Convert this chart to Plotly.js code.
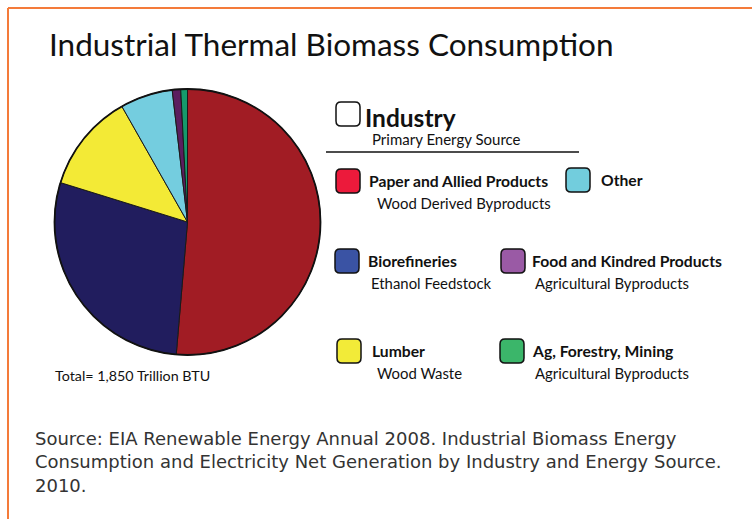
<!DOCTYPE html>
<html>
<head>
<meta charset="utf-8">
<script src="https://cdn.plot.ly/plotly-3.0.1.min.js"></script>
<style>html,body{margin:0;padding:0;background:#fff;}#chart{width:752px;height:519px;}</style>
</head>
<body>
<div id="chart"></div>
<script>
// ---- data ----
var industries = ['Paper and Allied Products', 'Biorefineries', 'Lumber', 'Other', 'Food and Kindred Products', 'Ag, Forestry, Mining'];
var energySources = ['Wood Derived Byproducts', 'Ethanol Feedstock', 'Wood Waste', '', 'Agricultural Byproducts', 'Agricultural Byproducts'];
var consumption = [950, 526, 222, 118, 19, 15]; // trillion BTU
var pieColors = ['#A11C24', '#211D5E', '#F3EA36', '#74CDDF', '#5B1D5F', '#169A6B'];
var legendColors = ['#EC1A3B', '#3A53A4', '#F2EB38', '#72CDDD', '#9A5AA5', '#3BB66A'];
var titleText = 'Industrial Thermal Biomass Consumption';
var totalText = 'Total= 1,850 Trillion BTU';
var sourceText = 'Source: EIA Renewable Energy Annual 2008. Industrial Biomass Energy<br>Consumption and Electricity Net Generation by Industry and Energy Source.<br>2010.';

// ---- layout helpers (pixel -> paper) ----
var W = 752, H = 519;
function px(x) { return x / W; }
function py(y) { return 1 - y / H; }
function roundBox(x0, y0, x1, y1, r) {
  var rx = r / W, ry = r / H;
  var a = px(x0), b = px(x1), t = py(y0), u = py(y1);
  return 'M' + (a + rx) + ',' + t +
    ' L' + (b - rx) + ',' + t + ' Q' + b + ',' + t + ' ' + b + ',' + (t - ry) +
    ' L' + b + ',' + (u + ry) + ' Q' + b + ',' + u + ' ' + (b - rx) + ',' + u +
    ' L' + (a + rx) + ',' + u + ' Q' + a + ',' + u + ' ' + a + ',' + (u + ry) +
    ' L' + a + ',' + (t - ry) + ' Q' + a + ',' + t + ' ' + (a + rx) + ',' + t + ' Z';
}

// legend slot positions (box left x, box center y, label x, source x) per industry
var slots = [
  {bx: 336, cy: 181, tx: 367, sx: 375},
  {bx: 335, cy: 261, tx: 366, sx: 369},
  {bx: 337, cy: 351, tx: 370, sx: 375},
  {bx: 566, cy: 180, tx: 599, sx: 0},
  {bx: 501, cy: 261, tx: 530, sx: 533},
  {bx: 500, cy: 351, tx: 530, sx: 533}
];

var shapes = [
  {type: 'line', xref: 'paper', yref: 'paper', x0: px(8), x1: px(752), y0: py(8), y1: py(8), line: {color: '#F47B3A', width: 2}},
  {type: 'line', xref: 'paper', yref: 'paper', x0: px(8), x1: px(8), y0: py(8), y1: py(519), line: {color: '#F47B3A', width: 2}},
  {type: 'path', xref: 'paper', yref: 'paper', path: roundBox(336, 102, 360, 126, 5), fillcolor: '#FFFFFF', line: {color: '#111', width: 1.5}},
  {type: 'line', xref: 'paper', yref: 'paper', x0: px(326), x1: px(579), y0: py(152), y1: py(152), line: {color: '#111', width: 1.5}}
];
var fontB = 'Lato, "Open Sans", sans-serif';
var annotations = [
  {x: px(331), y: py(44), text: titleText, font: {family: fontB, size: 31.5, color: '#111'}},
  {x: px(363), y: py(117), xanchor: 'left', text: '<b>Industry</b>', font: {family: fontB, size: 24.5, color: '#111'}},
  {x: px(370), y: py(139), xanchor: 'left', text: 'Primary Energy Source', font: {family: fontB, size: 15, color: '#111'}},
  {x: px(53), y: py(375), xanchor: 'left', text: totalText, font: {family: fontB, size: 14.3, color: '#111'}},
  {x: px(33), y: py(462), xanchor: 'left', align: 'left', text: sourceText, font: {family: '"DejaVu Sans", sans-serif', size: 18, color: '#333'}}
];
for (var i = 0; i < industries.length; i++) {
  var s = slots[i];
  shapes.push({type: 'path', xref: 'paper', yref: 'paper', path: roundBox(s.bx, s.cy - 12, s.bx + 24, s.cy + 12, 5),
    fillcolor: legendColors[i], line: {color: '#111', width: 1.5}});
  annotations.push({x: px(s.tx), y: py(s.cy), xanchor: 'left', text: '<b>' + industries[i] + '</b>',
    font: {family: fontB, size: 15.7, color: '#111'}});
  if (energySources[i]) {
    annotations.push({x: px(s.sx), y: py(s.cy + 22), xanchor: 'left', text: energySources[i],
      font: {family: fontB, size: 14.9, color: '#111'}});
  }
}
annotations.forEach(function (a) { a.xref = 'paper'; a.yref = 'paper'; a.showarrow = false; if (!a.yanchor) a.yanchor = 'middle'; });

var trace = {
  type: 'pie',
  labels: industries,
  values: consumption,
  sort: false,
  direction: 'clockwise',
  rotation: 0,
  textinfo: 'none',
  hoverinfo: 'label+value+percent',
  marker: {colors: pieColors, line: {color: '#1a1a1a', width: 1}},
  domain: {x: [px(54.5), px(320.5)], y: [py(355), py(89)]},
  showlegend: false
};
shapes.push({type: 'circle', xref: 'paper', yref: 'paper', x0: px(54.5), x1: px(320.5), y0: py(355), y1: py(89), line: {color: '#111', width: 1.8}});

var layout = {
  width: W, height: H,
  margin: {l: 0, r: 0, t: 0, b: 0},
  paper_bgcolor: '#fff',
  showlegend: false,
  shapes: shapes,
  annotations: annotations
};
Plotly.newPlot('chart', [trace], layout, {displayModeBar: false, staticPlot: true});
</script>
</body>
</html>
